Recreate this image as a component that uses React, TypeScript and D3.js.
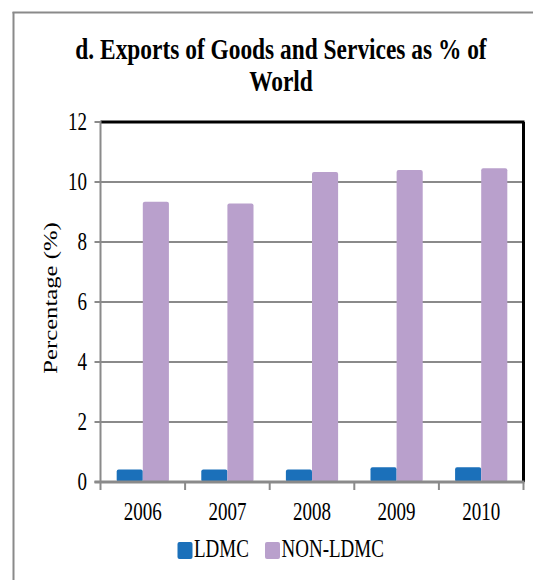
import React from "react";
import * as d3 from "d3";

const years = ["2006", "2007", "2008", "2009", "2010"];
const series = ["LDMC", "NON-LDMC"];
const ldmc = [0.42, 0.42, 0.42, 0.49, 0.49];
const nonLdmc = [9.34, 9.28, 10.33, 10.4, 10.46];
const yTicks = [0, 2, 4, 6, 8, 10, 12];
const colors = ["#1B70BA", "#B9A0CC"];
const titleLines = ["d. Exports of Goods and Services as % of", "World"];
const yLabel = "Percentage (%)";

const FONT = "'Liberation Serif', 'Times New Roman', serif";
const SY = 1.3;

function T({ x, y, size, anchor = "middle", bold = false, children }: any) {
  return (
    <text
      transform={`translate(${x},${y}) scale(1,${SY})`}
      fontFamily={FONT}
      fontSize={size}
      fontWeight={bold ? "bold" : "normal"}
      textAnchor={anchor}
      fill="#000"
    >
      {children}
    </text>
  );
}

export default function App() {
  const left = 100.5, right = 523.5, top = 122, bottom = 482;
  const x0 = d3.scaleBand().domain(years).range([left, right]).padding(0);
  const x1 = d3.scaleBand().domain(series).range([0, x0.bandwidth()]).paddingInner(0).paddingOuter(0.62);
  const y = d3.scaleLinear().domain([0, 12]).range([bottom, top]);
  const data = [ldmc, nonLdmc];
  const boundaries = [...years.map((d) => x0(d) as number), right];

  return (
    <svg width={533} height={580} style={{ position: "absolute", left: 0, top: 0, background: "#fff" }}>
      {/* outer frame */}
      <line x1={13.5} y1={12} x2={13.5} y2={580} stroke="#8a8a8a" strokeWidth={2} />
      <line x1={12.5} y1={12.5} x2={533} y2={12.5} stroke="#8a8a8a" strokeWidth={2} />

      {/* title */}
      <T x={281} y={59} size={23.4} bold>{titleLines[0]}</T>
      <T x={281} y={91} size={23.4} bold>{titleLines[1]}</T>

      {/* gridlines */}
      {yTicks.filter((t) => t !== 0 && t !== 12).map((t) => (
        <line key={t} x1={left} x2={right} y1={y(t)} y2={y(t)} stroke="#8a8a8a" strokeWidth={2} />
      ))}

      {/* plot border top/right */}
      <line x1={left} x2={right + 1} y1={top} y2={top} stroke="#000" strokeWidth={3} />
      <line x1={right} x2={right} y1={top} y2={bottom} stroke="#000" strokeWidth={3} />

      {/* bars */}
      {years.map((yr, i) => (
        <g key={yr}>
          {series.map((s, j) => {
            const v = data[j][i];
            const bx = (x0(yr) as number) + (x1(s) as number);
            return (
              <rect
                key={s}
                x={bx}
                y={y(v)}
                width={x1.bandwidth()}
                height={bottom - y(v)}
                rx={2}
                fill={colors[j]}
              />
            );
          })}
        </g>
      ))}

      {/* y axis */}
      <line x1={left} x2={left} y1={top - 1} y2={bottom + 1} stroke="#8a8a8a" strokeWidth={2} />
      {yTicks.map((t) => (
        <g key={t}>
          <line x1={left - 6} x2={left} y1={y(t)} y2={y(t)} stroke="#8a8a8a" strokeWidth={2} />
          <T x={87} y={y(t) + 8} size={19} anchor="end">{t}</T>
        </g>
      ))}

      {/* x axis */}
      <line x1={left - 6} x2={right + 1} y1={bottom} y2={bottom} stroke="#8a8a8a" strokeWidth={3} />
      {boundaries.map((bx, i) => (
        <line key={i} x1={bx} x2={bx} y1={bottom} y2={bottom + 8} stroke="#8a8a8a" strokeWidth={2} />
      ))}
      {years.map((yr) => (
        <T key={yr} x={(x0(yr) as number) + x0.bandwidth() / 2} y={520} size={19}>{yr}</T>
      ))}

      {/* y label */}
      <text
        transform={`translate(57,298) rotate(-90) scale(${SY},1)`}
        fontFamily={FONT}
        fontSize={19}
        textAnchor="middle"
        fill="#000"
      >
        {yLabel}
      </text>

      {/* legend */}
      <rect x={177.5} y={542} width={15} height={17} rx={2} fill={colors[0]} />
      <T x={194} y={557} size={19} anchor="start">{series[0]}</T>
      <rect x={265} y={542} width={15} height={17} rx={2} fill={colors[1]} />
      <T x={281.5} y={557} size={19} anchor="start">{series[1]}</T>
    </svg>
  );
}
